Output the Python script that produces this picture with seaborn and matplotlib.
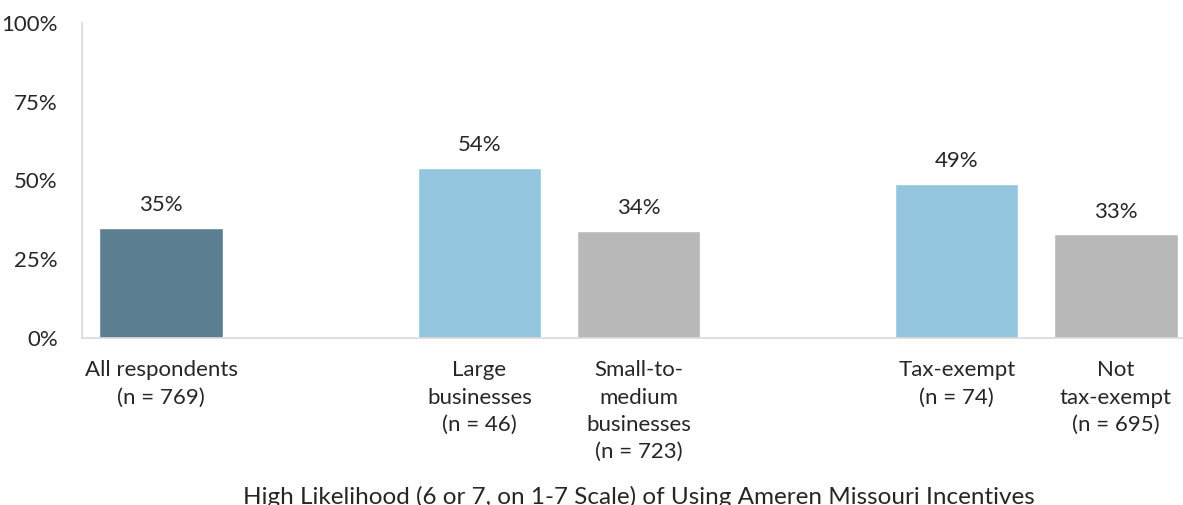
import matplotlib
matplotlib.use("Agg")
import matplotlib.pyplot as plt
import seaborn as sns
import pandas as pd

categories = ["All respondents\n(n = 769)", "Large\nbusinesses\n(n = 46)",
              "Small-to-\nmedium\nbusinesses\n(n = 723)", "Tax-exempt\n(n = 74)",
              "Not\ntax-exempt\n(n = 695)"]
values = [35, 54, 34, 49, 33]
colors = ["#5B7F90", "#93C5DE", "#B8B8B8", "#93C5DE", "#B8B8B8"]
order = [categories[0], " ", categories[1], categories[2], "  ", categories[3], categories[4]]
yticks = [0, 25, 50, 75, 100]
title = "High Likelihood (6 or 7, on 1-7 Scale) of Using Ameren Missouri Incentives"

sns.set_theme(style="white")
plt.rcParams["font.family"] = ["Lato", "DejaVu Sans"]

df = pd.DataFrame({"cat": categories, "val": values})
fig = plt.figure(figsize=(11.83, 5.05), dpi=100)
ax = fig.add_axes([81.5 / 1183, 1 - 338 / 505, 1114 / 1183, 315 / 505])
sns.barplot(data=df, x="cat", y="val", hue="cat", order=order, hue_order=categories,
            palette=dict(zip(categories, colors)), width=0.774, legend=False, ax=ax,
            saturation=1)
ax.set_xlim(-0.5, 6.5)
ax.set_ylim(0, 100)
ax.set_yticks(yticks)
ax.set_yticklabels([f"{t}%" for t in yticks])
ax.set_xlabel("")
ax.set_ylabel("")
for c in ax.containers:
    ax.bar_label(c, labels=[f"{v:.0f}%" if v == v else "" for v in c.datavalues],
                 padding=9, fontsize=16, color="#262626")
ax.tick_params(axis="both", length=0, labelsize=16, colors="#262626")
ax.tick_params(axis="y", pad=17)
ax.tick_params(axis="x", pad=16)
for lbl in ax.get_xticklabels():
    lbl.set_linespacing(1.46)
for s in ["top", "right"]:
    ax.spines[s].set_visible(False)
for s in ["left", "bottom"]:
    ax.spines[s].set_color("#D9D9D9")
    ax.spines[s].set_linewidth(1.2)
fig.text(0.54, 1 - 497 / 505, title, ha="center", va="center", fontsize=17.5, color="#262626")
fig.savefig("out.png", dpi=100)
